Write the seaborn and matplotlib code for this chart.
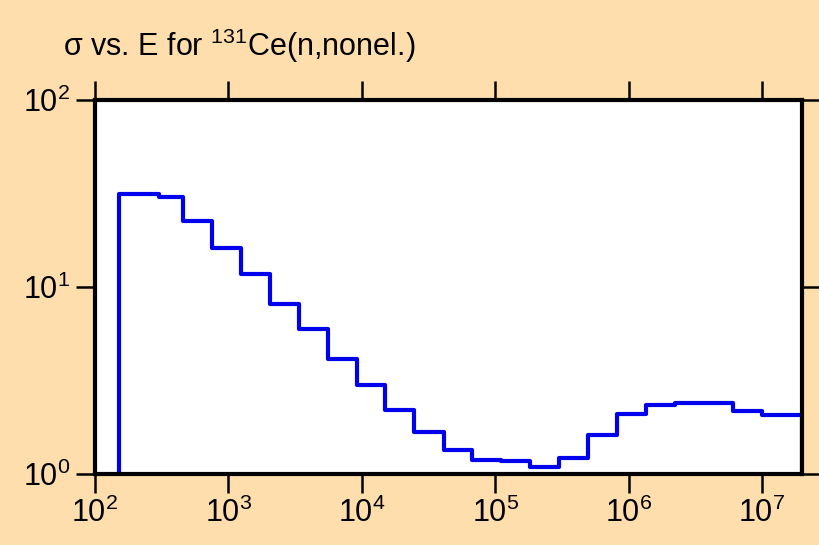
import numpy as np
import matplotlib
matplotlib.use("Agg")
import matplotlib.pyplot as plt
import seaborn as sns
from matplotlib.ticker import LogLocator, NullLocator

# group boundaries (eV) and cross sections (b)
edges = [150, 300, 455, 750, 1240, 2055, 3390, 5560, 9180, 15000, 24700,
         41000, 67000, 110000, 183000, 300000, 497000, 818000, 1.36e6,
         2.24e6, 3.7e6, 6.07e6, 1.0e7, 2.0e7]
sigma = [31.4, 30.4, 22.6, 16.1, 11.8, 8.08, 5.94, 4.10, 2.99, 2.20, 1.67,
         1.34, 1.19, 1.18, 1.086, 1.22, 1.61, 2.10, 2.35, 2.41, 2.39, 2.18, 2.08]
title = r"σ vs. E for $\mathregular{^{131}}$Ce(n,nonel.)"

sns.set_style("ticks")
plt.rcParams["font.family"] = ["Liberation Sans", "DejaVu Sans"]
plt.rcParams["mathtext.fontset"] = "custom"
plt.rcParams["mathtext.rm"] = "Liberation Sans"
plt.rcParams["mathtext.it"] = "Liberation Sans"
plt.rcParams["mathtext.bf"] = "Liberation Sans"
plt.rcParams["text.color"] = "black"
plt.rcParams["xtick.color"] = "black"
plt.rcParams["ytick.color"] = "black"

bg = "#FFDEAD"
fig = plt.figure(figsize=(8.2, 5.45), dpi=100, facecolor=bg)
ax = fig.add_axes([0.1159, 0.1303, 0.8622, 0.6862])
ax.set_facecolor("white")

ymin = 1.0
xs = np.repeat(edges, 2)
ys = np.concatenate([[ymin], np.repeat(sigma, 2), [ymin]])
sns.lineplot(x=xs, y=ys, sort=False, estimator=None, color="#0000EE",
             linewidth=3, ax=ax)

ax.set_xscale("log")
ax.set_yscale("log")
ax.set_xlim(100, 2.0e7)
ax.set_ylim(1, 100)
ax.xaxis.set_major_locator(LogLocator(base=10, numticks=10))
ax.yaxis.set_major_locator(LogLocator(base=10, numticks=10))
ax.xaxis.set_minor_locator(NullLocator())
ax.yaxis.set_minor_locator(NullLocator())

for s in ax.spines.values():
    s.set_linewidth(3)
    s.set_color("black")
    s.set_visible(True)
    s.set_zorder(5)

ax.tick_params(axis="both", which="major", direction="out", length=14,
               width=1.8, labelsize=22, labelcolor="black",
               top=True, right=True, labeltop=False, labelright=False)
ax.tick_params(axis="x", pad=3)
ax.tick_params(axis="y", pad=4)
ax.set_xlabel("")
ax.set_ylabel("")

fig.text(0.077, 0.915, title, fontsize=22, ha="left", va="center")

fig.savefig("out.png", dpi=100, facecolor=bg)
